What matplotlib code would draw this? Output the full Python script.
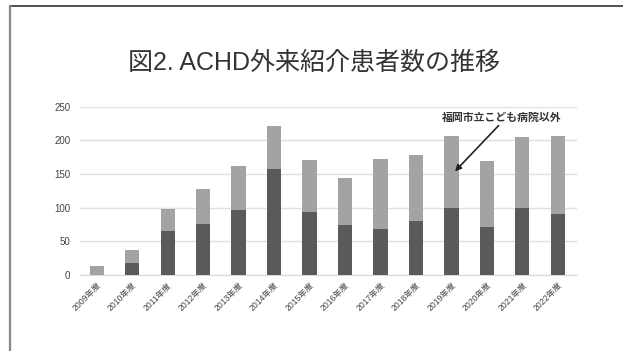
import numpy as np
import matplotlib.pyplot as plt
from matplotlib.lines import Line2D

plt.rcParams['font.family'] = ['Liberation Sans', 'Noto Sans CJK JP', 'DejaVu Sans']

years = ['2009年度', '2010年度', '2011年度', '2012年度', '2013年度', '2014年度', '2015年度',
         '2016年度', '2017年度', '2018年度', '2019年度', '2020年度', '2021年度', '2022年度']
# 福岡市立こども病院からの紹介 / それ以外
kodomo = [0, 18, 66, 76, 97, 157, 94, 75, 68, 80, 100, 72, 100, 91]
others = [13, 19, 32, 52, 65, 65, 77, 69, 104, 99, 106, 97, 105, 116]

fig = plt.figure(figsize=(6.23, 3.51), dpi=100)
ax = fig.add_axes([0.1284, 0.2165, 0.7978, 0.4795])

x = np.arange(len(years))
ax.bar(x, kodomo, width=0.4, color='#5a5a5a', zorder=3)
ax.bar(x, others, width=0.4, bottom=kodomo, color='#a3a3a3', zorder=3)

ax.set_xlim(-0.47, 13.54)
ax.set_ylim(0, 250)
ax.set_yticks(range(0, 251, 50))
ax.yaxis.grid(True, color='#e0e0e0', linewidth=1, zorder=0)
for s in ['top', 'right', 'left']:
    ax.spines[s].set_visible(False)
ax.spines['bottom'].set_color('#d9d9d9')
ax.tick_params(axis='both', length=0)
ax.tick_params(axis='y', labelsize=7, labelcolor='#444444', pad=7)
ax.set_xticks(x)
ax.set_xticklabels(years, rotation=45, ha='right', rotation_mode='anchor',
                   fontsize=6.2, color='#444444')
ax.tick_params(axis='x', pad=4)

# 注記
ax.text(11.41, 233, '福岡市立こども病院以外', ha='center', va='center',
        fontsize=7.8, color='#333333', fontweight='bold')
ax.annotate('', xy=(10.1, 154), xytext=(11.33, 222),
            arrowprops=dict(arrowstyle='-|>', color='#222222', lw=1.2,
                            mutation_scale=9, shrinkA=0, shrinkB=0))

fig.text(314 / 623, 1 - 63 / 351, '図2. ACHD外来紹介患者数の推移', ha='center',
         va='center', fontsize=18, color='#333333')

# 枠線
fig.add_artist(Line2D([9.5 / 623, 1], [1 - 6 / 351, 1 - 6 / 351],
                      transform=fig.transFigure, color='#333333', lw=1.2))
fig.add_artist(Line2D([10 / 623, 10 / 623], [0, 1 - 6 / 351],
                      transform=fig.transFigure, color='#888888', lw=1.6))

fig.savefig('out.png', dpi=100)
